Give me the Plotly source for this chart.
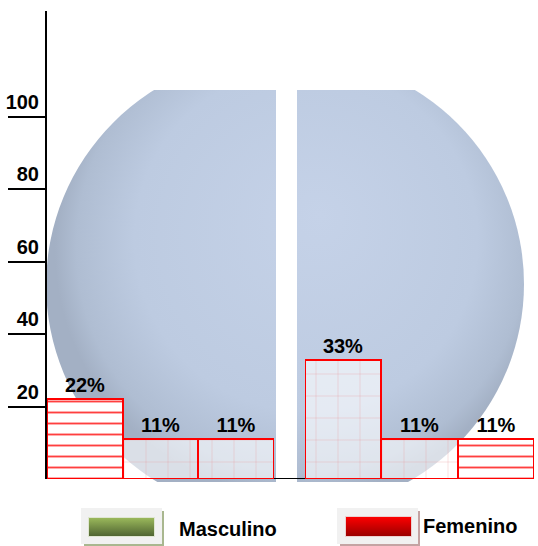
import base64
import plotly.graph_objects as go

# ---------------- data ----------------
left_categories = ["Categoría 1", "Categoría 2", "Categoría 3"]
left_values = [22, 11, 11]
right_categories = ["Categoría 1", "Categoría 2", "Categoría 3"]
right_values = [33, 11, 11]
y_tick_values = [20, 40, 60, 80, 100]
legend_labels = ["Masculino", "Femenino"]

# ---------------- geometry helpers ----------------
W, H = 538, 546
def px(x):
    return x / W
def py(y):
    return (H - y) / H

FONT = "Liberation Sans, Arial, sans-serif"

# pattern styles
dash_style = dict(shape="-", fg="rgba(255,30,30,0.85)", bg="#ffffff", size=11, solidity=0.17)
grid_style = dict(shape="+", fg="rgba(230,140,145,0.55)", bg="rgba(255,255,255,0.6)", size=22, solidity=0.045)
left_styles = [dash_style, grid_style, grid_style]
right_styles = [grid_style, grid_style, dash_style]

fig = go.Figure()

def add_bars(cats, vals, styles, xaxis, name):
    for c, v, s in zip(cats, vals, styles):
        fig.add_trace(go.Bar(
            x=[c], y=[v], name=name, xaxis=xaxis, yaxis="y", showlegend=False,
            texttemplate="%{y}%", textposition="outside", cliponaxis=False,
            textfont=dict(family=FONT, size=20, color="#000000", weight="bold"),
            marker=dict(
                color=s["bg"],
                line=dict(color="#ff0000", width=2),
                pattern=dict(shape=s["shape"], fgcolor=s["fg"], bgcolor=s["bg"],
                             size=s["size"], solidity=s["solidity"], fillmode="replace"),
            ),
        ))

add_bars(left_categories, left_values, left_styles, "x", legend_labels[0])
add_bars(right_categories, right_values, right_styles, "x2", legend_labels[1])

# ---------------- background artwork (split sphere + legend swatches) ----------------
svg = f'''<svg xmlns="http://www.w3.org/2000/svg" width="{W}" height="{H}" viewBox="0 0 {W} {H}">
<defs>
<radialGradient id="g" gradientUnits="userSpaceOnUse" cx="300" cy="250" r="245" fx="320" fy="215">
<stop offset="0" stop-color="#c5d2e8"/>
<stop offset="0.7" stop-color="#bdcbe1"/>
<stop offset="0.92" stop-color="#afbdd2"/>
<stop offset="1" stop-color="#a3b0c4"/>
</radialGradient>
<clipPath id="c"><rect x="0" y="90" width="{W}" height="392"/></clipPath>
<linearGradient id="gg" x1="0" y1="0" x2="0" y2="1">
<stop offset="0" stop-color="#9cba5c"/><stop offset="1" stop-color="#4e6331"/></linearGradient>
<linearGradient id="rg" x1="0" y1="0" x2="0" y2="1">
<stop offset="0" stop-color="#ff0000"/><stop offset="1" stop-color="#990000"/></linearGradient>
</defs>
<g clip-path="url(#c)">
<path d="M276,55 A230,230 0 0 0 276,515 Z" fill="url(#g)"/>
<path d="M297,57 A227,227 0 0 1 297,511 Z" fill="url(#g)"/>
</g>
<rect x="84" y="511" width="80" height="35" fill="#a9b78f"/>
<rect x="81" y="508" width="81" height="36" fill="#f1f1f1"/>
<rect x="88.5" y="517.5" width="66" height="19" fill="url(#gg)" stroke="#dfe6d2" stroke-width="1"/>
<rect x="340" y="511" width="80" height="35" fill="#c4a3a3"/>
<rect x="337" y="508" width="81" height="36" fill="#f1f1f1"/>
<rect x="345.5" y="516.5" width="66" height="20" fill="url(#rg)" stroke="#ecd0d0" stroke-width="1"/>
</svg>'''
uri = "data:image/svg+xml;base64," + base64.b64encode(svg.encode("utf-8")).decode("ascii")

fig.add_layout_image(dict(
    source=uri, xref="paper", yref="paper", x=0, y=1, sizex=1, sizey=1,
    xanchor="left", yanchor="top", sizing="stretch", layer="below",
))

# baseline across the gap
fig.add_shape(type="line", xref="paper", yref="y", x0=px(46), x1=px(534), y0=0, y1=0,
              line=dict(color="#000000", width=2), layer="below")

# legend texts
fig.add_annotation(text=legend_labels[0], xref="paper", yref="paper", x=px(177), y=py(529),
                   xanchor="left", yanchor="middle", showarrow=False,
                   font=dict(family=FONT, size=20, color="#000000", weight="bold"))
fig.add_annotation(text=legend_labels[1], xref="paper", yref="paper", x=px(421), y=py(526),
                   xanchor="left", yanchor="middle", showarrow=False,
                   font=dict(family=FONT, size=20, color="#000000", weight="bold"))

y_bottom, y_top = 479, 11
px_per_unit = 3.62
fig.update_layout(
    width=W, height=H, margin=dict(l=0, r=0, t=0, b=0),
    paper_bgcolor="#ffffff", plot_bgcolor="rgba(0,0,0,0)",
    barmode="overlay", bargap=0, showlegend=False,
    xaxis=dict(domain=[px(47), px(274)], anchor="y", showticklabels=False, showgrid=False,
               zeroline=False, showline=False, ticks="", fixedrange=True),
    xaxis2=dict(domain=[px(305), px(534)], anchor="y", showticklabels=False, showgrid=False,
                zeroline=False, showline=False, ticks="", fixedrange=True),
    yaxis=dict(domain=[py(y_bottom), py(y_top)], anchor="x",
               range=[0, (y_bottom - y_top) / px_per_unit],
               tickvals=y_tick_values, ticks="outside", ticklen=37, tickwidth=2, tickcolor="#000000",
               showline=True, linecolor="#000000", linewidth=2, showgrid=False, zeroline=False,
               layer="below traces",
               ticklabelshift=-15, ticklabelstandoff=-35,
               tickfont=dict(family=FONT, size=20, color="#000000", weight="bold")),
)

fig.write_html("out.html")
